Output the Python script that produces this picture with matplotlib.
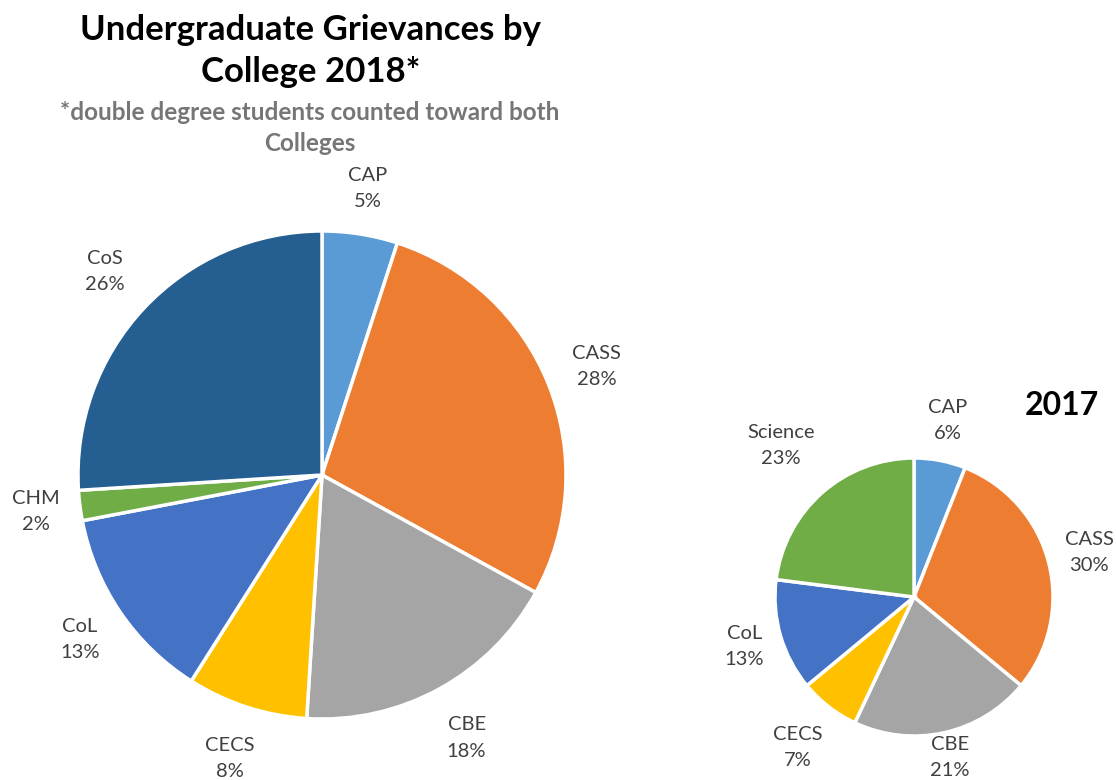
import math
import matplotlib.pyplot as plt

# Grievance shares by college, 2018 (double-degree students counted twice).
COLLEGES_2018 = ["CAP", "CASS", "CBE", "CECS", "CoL", "CHM", "CoS"]
SHARE_2018 = [5, 28, 18, 8, 13, 2, 26]

# Grievance shares by college, 2017.
COLLEGES_2017 = ["CAP", "CASS", "CBE", "CECS", "CoL", "Science"]
SHARE_2017 = [6, 30, 21, 7, 13, 23]

COLOURS = {
    "CAP": "#5B9BD5",
    "CASS": "#ED7D31",
    "CBE": "#A5A5A5",
    "CECS": "#FFC000",
    "CoL": "#4472C4",
    "CHM": "#70AD47",
    "Science": "#70AD47",
    "CoS": "#255E91",
}

FONT = ["Lato", "DejaVu Sans"]
LABEL_COLOUR = "#404040"

W, H = 1116, 780


def pie_axes(fig, cx, cy, r, span=1.6):
    # Axes whose unit circle sits at pixel centre (cx, cy) with radius r.
    size = 2 * span * r
    ax = fig.add_axes([(cx - size / 2) / W, 1 - (cy + size / 2) / H, size / W, size / H])
    return ax, span


def draw_pie(ax, span, names, shares, label_dist):
    wedges, _ = ax.pie(
        shares,
        colors=[COLOURS[n] for n in names],
        startangle=90,
        counterclock=False,
        radius=1.0,
        wedgeprops=dict(edgecolor="white", linewidth=2.5),
    )
    # pie() resets the limits, so pin them afterwards
    ax.set_xlim(-span, span)
    ax.set_ylim(-span, span)
    ax.set_aspect("equal")
    ax.axis("off")
    for w, name, share, d in zip(wedges, names, shares, label_dist):
        mid = math.radians((w.theta1 + w.theta2) / 2)
        ax.text(
            d * math.cos(mid), d * math.sin(mid), f"{name}\n{share}%",
            ha="center", va="center", fontsize=14.5, color=LABEL_COLOUR,
            family=FONT, linespacing=1.65,
        )


fig = plt.figure(figsize=(W / 100, H / 100), dpi=100)

ax1, s1 = pie_axes(fig, 322, 475, 244)
draw_pie(ax1, s1, COLLEGES_2018, SHARE_2018, [1.19, 1.21, 1.23, 1.22, 1.2, 1.18, 1.22])

ax2, s2 = pie_axes(fig, 914, 597, 139)
draw_pie(ax2, s2, COLLEGES_2017, SHARE_2017, [1.29, 1.3, 1.18, 1.37, 1.27, 1.45])

fig.text(311 / W, 1 - 51 / H, "Undergraduate Grievances by\nCollege 2018*",
         ha="center", va="center", fontsize=25, fontweight="bold",
         family=FONT, color="black", linespacing=1.4)
fig.text(310 / W, 1 - 128 / H, "*double degree students counted toward both\nColleges",
         ha="center", va="center", fontsize=17.5, fontweight="bold",
         family=FONT, color="#767676", linespacing=1.4)
fig.text(1062 / W, 1 - 405 / H, "2017", ha="center", va="center",
         fontsize=23, fontweight="bold", family=FONT, color="black")

fig.savefig("out.png", dpi=100)
